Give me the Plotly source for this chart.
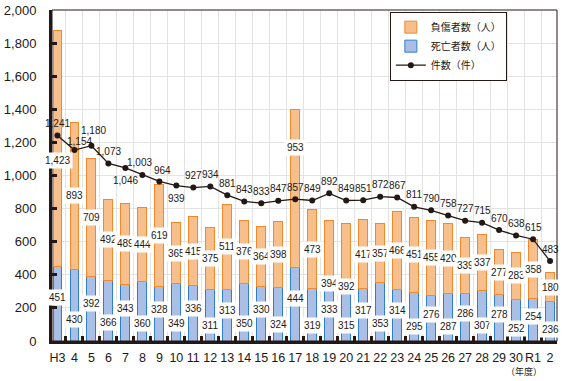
import plotly.graph_objects as go

categories = ["H3", "4", "5", "6", "7", "8", "9", "10", "11", "12", "13", "14", "15", "16", "17",
              "18", "19", "20", "21", "22", "23", "24", "25", "26", "27", "28", "29", "30", "R1", "2"]
deaths = [451, 430, 392, 366, 343, 360, 328, 349, 336, 311, 313, 350, 330, 324, 444,
          319, 333, 315, 317, 353, 314, 295, 276, 287, 286, 307, 278, 252, 254, 236]
injured = [1423, 893, 709, 492, 489, 444, 619, 365, 415, 375, 511, 376, 364, 398, 953,
           473, 394, 392, 417, 357, 466, 451, 455, 420, 339, 337, 277, 283, 358, 180]
cases = [1241, 1154, 1180, 1073, 1046, 1003, 964, 939, 927, 934, 881, 843, 833, 847, 857,
         849, 892, 849, 851, 872, 867, 811, 790, 758, 727, 715, 670, 638, 615, 483]

# label placement tweaks (style, not data): (xshift, yshift) in px
cases_label_shift = {"4": (5, 9), "5": (2, 15), "7": (0, -13), "8": (-3, 13), "9": (3, 11),
                     "10": (0, -13)}
injured_label_frac = {"H3": 0.45, "17": 0.76, "19": 0.03, "20": 0.03}

INK = "#231815"
NUM_FONT = dict(family="Liberation Sans Narrow, Arial Narrow, Liberation Sans, Arial", size=10, color=INK)

fig = go.Figure()
fig.add_bar(x=categories, y=deaths, name="死亡者数（人）", width=0.52,
            marker=dict(color="#a9bfe6", line=dict(color="#2f80c8", width=1)), legendrank=2)
fig.add_bar(x=categories, y=injured, name="負傷者数（人）", width=0.52,
            marker=dict(color="#f7bf8c", line=dict(color="#f08a2c", width=1)), legendrank=1)
fig.add_scatter(x=categories, y=cases, mode="lines+markers", name="件数（件）",
                line=dict(color=INK, width=1.3), marker=dict(size=6, color=INK), legendrank=3)

annotations = []
for i, c in enumerate(categories):
    d, inj, k = deaths[i], injured[i], cases[i]
    annotations.append(dict(x=i, y=d * (0.58 if i % 2 == 0 else 0.3), text=f"{d:,}", showarrow=False,
                            font=NUM_FONT, bgcolor="white", borderpad=2))
    annotations.append(dict(x=i, y=d + inj * injured_label_frac.get(c, 0.5), text=f"{inj:,}",
                            showarrow=False, font=NUM_FONT, bgcolor="white", borderpad=2))
    xs, ys = cases_label_shift.get(c, (0, 12))
    annotations.append(dict(x=i, y=k, text=f"{k:,}", showarrow=False, font=NUM_FONT,
                            xshift=xs, yshift=ys))
annotations.append(dict(xref="paper", yref="paper", x=0.975, y=-0.093, yanchor="middle",
                        text="（年度）", showarrow=False,
                        font=dict(family="Noto Sans CJK JP", size=9, color=INK)))

fig.update_layout(
    width=568, height=381,
    margin=dict(l=52, r=11, t=10, b=40),
    barmode="stack",
    plot_bgcolor="white", paper_bgcolor="white",
    font=dict(family="Liberation Sans, Arial, Noto Sans CJK JP", size=13, color=INK),
    showlegend=True,
    legend=dict(x=0.669, y=0.995, xanchor="left", yanchor="top", bgcolor="white",
                bordercolor=INK, borderwidth=1, traceorder="normal", itemwidth=30,
                tracegroupgap=0,
                font=dict(family="Noto Sans CJK JP", size=10, color=INK)),
    annotations=annotations,
    shapes=[dict(type="rect", xref="paper", yref="paper", x0=0, y0=0, x1=1, y1=1,
                 line=dict(color=INK, width=1), layer="above")],
)
fig.update_xaxes(type="category", tickson="boundaries", showgrid=True, gridcolor="#e3e3e3",
                 ticks="inside", ticklen=5, tickwidth=3, tickcolor=INK, tickangle=0,
                 showline=True, linewidth=3, linecolor=INK, range=[-0.32, 29.41],
                 ticklabelstandoff=3, tickfont=dict(size=12.5), automargin=False)
fig.update_yaxes(range=[0, 2000], dtick=200, tickformat=",", showgrid=True, gridcolor="#e3e3e3",
                 ticks="inside", ticklen=5, tickwidth=3, tickcolor=INK,
                 showline=True, linewidth=3, linecolor=INK, zeroline=False,
                 ticklabelstandoff=10, automargin=False)

fig.write_html("out.html", config={"displayModeBar": False},
               post_script="document.body.style.margin='0';document.body.style.overflow='hidden';")
